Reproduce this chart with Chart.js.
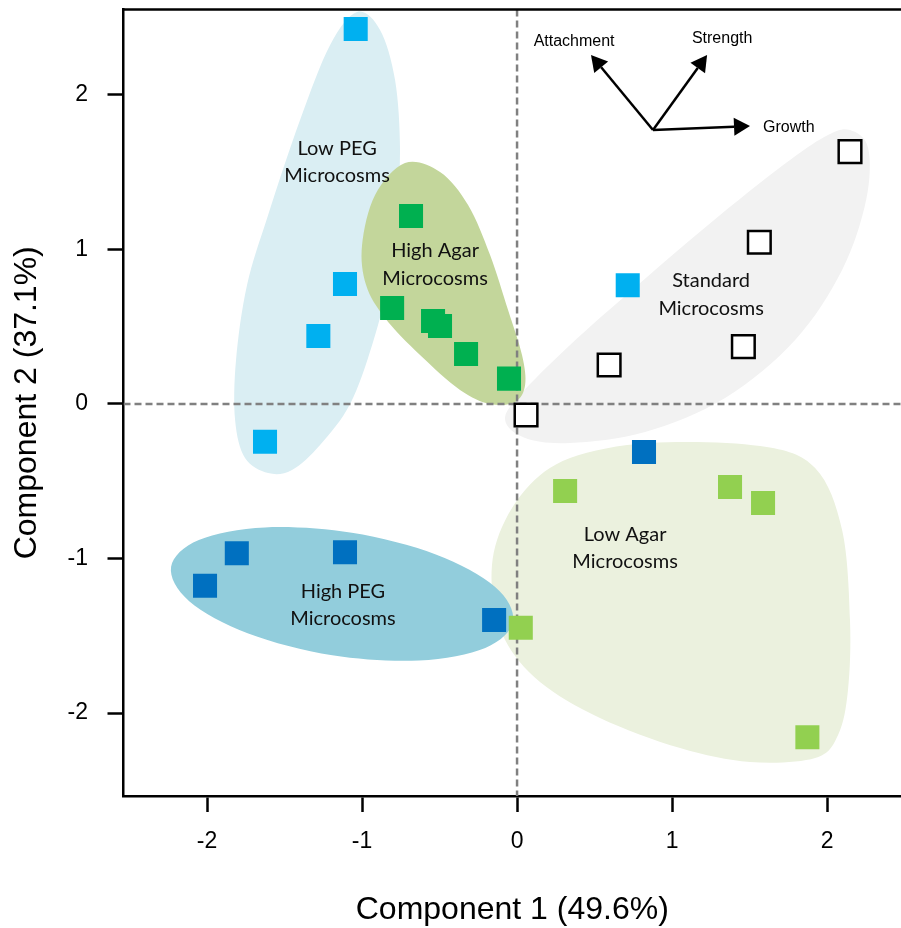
<!DOCTYPE html>
<html>
<head>
<meta charset="utf-8">
<script src="https://cdn.jsdelivr.net/npm/chart.js@4.4.0/dist/chart.umd.min.js"></script>
<style>
  html, body { margin: 0; padding: 0; background: #ffffff; }
  canvas { display: block; }
</style>
</head>
<body>
<canvas id="pca" width="901" height="928"></canvas>
<script>
// Sample scores on the first two principal components, by treatment
const lowPegX   = [-1.041, -1.110, -1.282, -1.626, 0.714];
const lowPegY   = [ 2.427,  0.777,  0.440, -0.244, 0.768];
const highAgarX = [-0.684, -0.806, -0.542, -0.497, -0.329, -0.052];
const highAgarY = [ 1.217,  0.621,  0.537,  0.505,  0.324,  0.164];
const standardX = [ 2.148,  1.563,  1.460,  0.594,  0.058];
const standardY = [ 1.633,  1.047,  0.371,  0.252, -0.071];
const highPegX  = [-1.808, -1.110, -2.013, -0.148,  0.819];
const highPegY  = [-0.966, -0.960, -1.176, -1.398, -0.311];
const lowAgarX  = [ 0.024,  0.310,  1.374,  1.587,  1.873];
const lowAgarY  = [-1.448, -0.563, -0.537, -0.641, -2.157];

const xTickValues = [-2, -1, 0, 1, 2];
const yTickValues = [-2, -1, 0, 1, 2];
const xAxisTitle = 'Component 1 (49.6%)';
const yAxisTitle = 'Component 2 (37.1%)';

// Outlines of the shaded group regions, in score units
const lowPegHull = [[-1.032, 2.537], [-0.884, 2.421], [-0.787, 2.097], [-0.755, 1.644], [-0.781, 1.191],
  [-0.845, 0.738], [-0.935, 0.382], [-1.077, 0.0], [-1.271, -0.265], [-1.452, -0.427], [-1.606, -0.447],
  [-1.755, -0.350], [-1.819, -0.104], [-1.813, 0.285], [-1.742, 0.770], [-1.606, 1.223], [-1.4, 1.838],
  [-1.206, 2.324]];
const highAgarHull = [[-0.723, 1.560], [-0.497, 1.502], [-0.316, 1.288], [-0.174, 0.964], [-0.058, 0.608],
  [0.032, 0.317], [0.052, 0.123], [-0.013, 0.013], [-0.174, 0.0], [-0.368, 0.091], [-0.626, 0.317],
  [-0.852, 0.557], [-0.974, 0.770], [-1.0, 1.029], [-0.916, 1.353]];
const standardHull = [[2.148, 1.773], [2.265, 1.657], [2.252, 1.320], [2.097, 0.867], [1.794, 0.414],
  [1.342, 0.039], [0.826, -0.181], [0.342, -0.252], [0.052, -0.220], [-0.077, -0.104], [0.019, 0.058],
  [0.342, 0.382], [0.794, 0.783], [1.310, 1.223], [1.761, 1.579], [2.006, 1.741]];
const highPegHull = [[-0.026, -1.405], [-0.205, -1.579], [-0.632, -1.660], [-1.192, -1.626], [-1.734, -1.485],
  [-2.115, -1.276], [-2.232, -1.054], [-2.053, -0.880], [-1.626, -0.799], [-1.066, -0.834], [-0.524, -0.974],
  [-0.143, -1.183]];
const lowAgarHull = [[0.858, -0.252], [1.568, -0.272], [1.923, -0.414], [2.097, -0.816], [2.148, -1.398],
  [2.135, -1.851], [2.071, -2.142], [1.923, -2.291], [1.503, -2.317], [1.052, -2.227], [0.535, -2.032],
  [0.148, -1.799], [-0.077, -1.528], [-0.161, -1.204], [-0.129, -0.880], [0.052, -0.557], [0.342, -0.350]];

// Group captions and where they sit
const groupCaptions = [['Low PEG', 'Microcosms'], ['High Agar', 'Microcosms'], ['Standard', 'Microcosms'],
  ['Low Agar', 'Microcosms'], ['High PEG', 'Microcosms']];
const groupCaptionAt = [[-1.161, 1.566], [-0.529, 0.903], [1.252, 0.709], [0.697, -0.932], [-1.123, -1.301]];

// Trait loading vectors (biplot arrows)
const loadingOrigin = [0.877, 1.773];
const loadingNames = ['Attachment', 'Strength', 'Growth'];
const loadingTips = [[0.477, 2.259], [1.226, 2.259], [1.503, 1.799]];
const loadingLabelAt = [[0.368, 2.343], [1.323, 2.362], [1.587, 1.786]];
const loadingLabelAlign = ['center', 'center', 'left'];

const SANS = '"Liberation Sans", Arial, Helvetica, sans-serif';
const CAPTION_FONT = 'Lato, "Open Sans", sans-serif';

const zip = (xs, ys) => xs.map((x, i) => ({ x: x, y: ys[i] }));

function toPx(chart, p) {
  return [chart.scales.x.getPixelForValue(p[0]), chart.scales.y.getPixelForValue(p[1])];
}

// Closed Catmull-Rom curve through the given pixel points
function smoothClosedPath(ctx, pts) {
  const n = pts.length;
  ctx.beginPath();
  ctx.moveTo(pts[0][0], pts[0][1]);
  for (let i = 0; i < n; i++) {
    const p0 = pts[(i - 1 + n) % n], p1 = pts[i], p2 = pts[(i + 1) % n], p3 = pts[(i + 2) % n];
    ctx.bezierCurveTo(
      p1[0] + (p2[0] - p0[0]) / 6, p1[1] + (p2[1] - p0[1]) / 6,
      p2[0] - (p3[0] - p1[0]) / 6, p2[1] - (p3[1] - p1[1]) / 6,
      p2[0], p2[1]);
  }
  ctx.closePath();
}

const hulls = [
  { pts: lowPegHull, color: '#DAEEF3' },
  { pts: standardHull, color: '#F2F2F2' },
  { pts: lowAgarHull, color: '#EBF1DE' },
  { pts: highPegHull, color: '#92CDDC' },
  { pts: highAgarHull, color: '#C3D69B' }
];

const backdropPlugin = {
  id: 'backdrop',
  beforeDatasetsDraw(chart) {
    const ctx = chart.ctx;
    const area = chart.chartArea;
    ctx.save();
    ctx.beginPath();
    ctx.rect(area.left, area.top, area.right - area.left, area.bottom - area.top);
    ctx.clip();
    hulls.forEach(h => {
      smoothClosedPath(ctx, h.pts.map(p => toPx(chart, p)));
      ctx.fillStyle = h.color;
      ctx.fill();
    });
    // zero reference lines
    const x0 = chart.scales.x.getPixelForValue(0);
    const y0 = chart.scales.y.getPixelForValue(0);
    ctx.strokeStyle = '#808080';
    ctx.lineWidth = 2.5;
    ctx.setLineDash([7, 4]);
    ctx.beginPath();
    ctx.moveTo(x0, area.top);
    ctx.lineTo(x0, area.bottom);
    ctx.moveTo(area.left, y0);
    ctx.lineTo(area.right, y0);
    ctx.stroke();
    ctx.setLineDash([]);
    ctx.restore();

    // top frame line
    ctx.save();
    ctx.strokeStyle = '#000000';
    ctx.lineWidth = 2.5;
    ctx.beginPath();
    ctx.moveTo(area.left - 1.25, area.top);
    ctx.lineTo(area.right, area.top);
    ctx.stroke();
    ctx.restore();
  },
  afterDatasetsDraw(chart) {
    const ctx = chart.ctx;
    ctx.save();
    // loading arrows
    const o = toPx(chart, loadingOrigin);
    ctx.strokeStyle = '#000000';
    ctx.fillStyle = '#000000';
    ctx.lineWidth = 2.5;
    loadingTips.forEach(tip => {
      const t = toPx(chart, tip);
      const ang = Math.atan2(t[1] - o[1], t[0] - o[0]);
      const len = 16, half = 9;
      const bx = t[0] - len * Math.cos(ang), by = t[1] - len * Math.sin(ang);
      ctx.beginPath();
      ctx.moveTo(o[0], o[1]);
      ctx.lineTo(bx, by);
      ctx.stroke();
      ctx.beginPath();
      ctx.moveTo(t[0], t[1]);
      ctx.lineTo(bx - half * Math.sin(ang), by + half * Math.cos(ang));
      ctx.lineTo(bx + half * Math.sin(ang), by - half * Math.cos(ang));
      ctx.closePath();
      ctx.fill();
    });
    ctx.font = '16px ' + SANS;
    ctx.textBaseline = 'middle';
    loadingNames.forEach((name, i) => {
      const p = toPx(chart, loadingLabelAt[i]);
      ctx.textAlign = loadingLabelAlign[i];
      ctx.fillText(name, p[0], p[1]);
    });

    // group captions
    ctx.font = '20px ' + CAPTION_FONT;
    ctx.fillStyle = '#111111';
    ctx.textAlign = 'center';
    groupCaptions.forEach((lines, i) => {
      const p = toPx(chart, groupCaptionAt[i]);
      const gap = 27.5;
      lines.forEach((line, j) => {
        ctx.fillText(line, p[0], p[1] + (j - (lines.length - 1) / 2) * gap);
      });
    });
    ctx.restore();
  }
};

const baseSet = { pointStyle: 'rect', pointRadius: 17, pointHoverRadius: 17, borderWidth: 0 };

new Chart(document.getElementById('pca'), {
  type: 'scatter',
  data: {
    datasets: [
      Object.assign({}, baseSet, { label: 'Low PEG', data: zip(lowPegX, lowPegY), backgroundColor: '#00B0F0', borderColor: '#00B0F0' }),
      Object.assign({}, baseSet, { label: 'High Agar', data: zip(highAgarX, highAgarY), backgroundColor: '#00B050', borderColor: '#00B050' }),
      Object.assign({}, baseSet, { label: 'High PEG', data: zip(highPegX, highPegY), backgroundColor: '#0070C0', borderColor: '#0070C0' }),
      Object.assign({}, baseSet, { label: 'Low Agar', data: zip(lowAgarX, lowAgarY), backgroundColor: '#92D050', borderColor: '#92D050' }),
      Object.assign({}, baseSet, { label: 'Standard', data: zip(standardX, standardY), backgroundColor: '#FFFFFF', borderColor: '#000000', borderWidth: 2.5, pointRadius: 16, pointHoverRadius: 16 })
    ]
  },
  options: {
    responsive: false,
    devicePixelRatio: 1,
    animation: false,
    layout: { autoPadding: false, padding: { top: 9.5, right: 0, bottom: 0, left: 0 } },
    plugins: { legend: { display: false }, tooltip: { enabled: false } },
    scales: {
      x: {
        type: 'linear',
        min: -2.539,
        max: 2.477,
        afterBuildTicks: s => { s.ticks = xTickValues.map(v => ({ value: v })); },
        afterFit: s => { s.height = 132; s.paddingLeft = 0; s.paddingRight = 0; },
        grid: { drawOnChartArea: false, drawTicks: true, tickLength: 16, tickWidth: 2.5, tickColor: '#000000' },
        border: { display: true, color: '#000000', width: 2.5 },
        ticks: { color: '#000000', padding: 16, font: { family: SANS, size: 23 } },
        title: { display: true, text: xAxisTitle, color: '#000000', font: { family: SANS, size: 32 }, padding: { top: 0, bottom: -1 } }
      },
      y: {
        type: 'linear',
        min: -2.537,
        max: 2.553,
        afterBuildTicks: s => { s.ticks = yTickValues.map(v => ({ value: v })); },
        afterFit: s => { s.width = 123.5; s.paddingTop = 0; s.paddingBottom = 0; },
        grid: { drawOnChartArea: false, drawTicks: true, tickLength: 16, tickWidth: 2.5, tickColor: '#000000' },
        border: { display: true, color: '#000000', width: 2.5 },
        ticks: { color: '#000000', padding: 19.5, font: { family: SANS, size: 23 } },
        title: { display: true, text: yAxisTitle, color: '#000000', font: { family: SANS, size: 32 }, padding: { top: 8, bottom: 0 } }
      }
    }
  },
  plugins: [backdropPlugin]
});
</script>
</body>
</html>
